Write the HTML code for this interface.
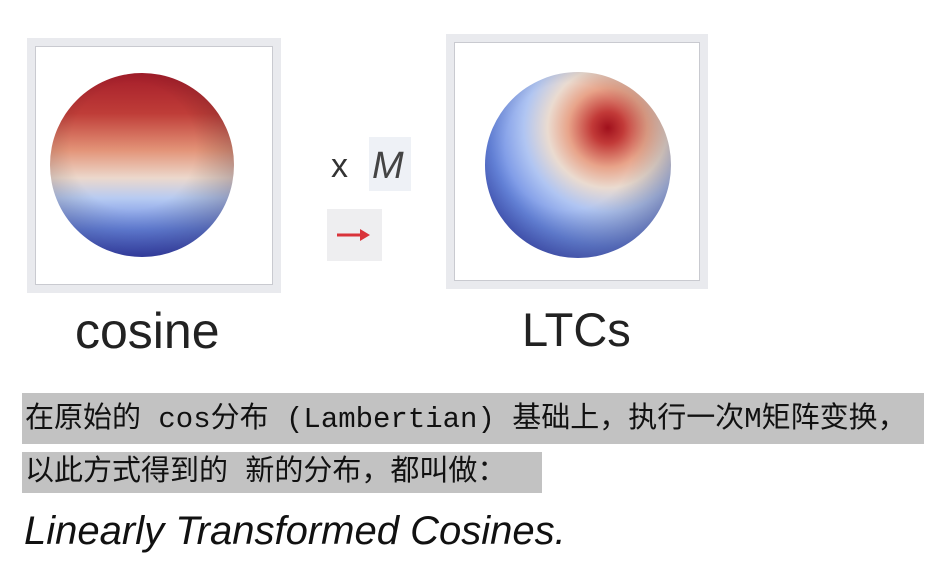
<!DOCTYPE html>
<html><head><meta charset="utf-8"><style>
html,body{margin:0;padding:0;background:#fff;width:946px;height:581px;overflow:hidden;position:relative;font-family:"Liberation Sans","Noto Sans CJK SC",sans-serif}
.abs{position:absolute}
.frame{background:#e9eaee}
.inner{position:absolute;left:8px;top:8px;right:8px;bottom:8px;background:#fff;border:1px solid #c9cad0}
.hl{background:#c2c2c2;color:#111;font-family:"Liberation Mono","Noto Sans CJK SC",monospace;font-size:29px;line-height:1;white-space:nowrap}
</style></head><body>
<div class="abs frame" style="left:27px;top:38px;width:254px;height:255px"><div class="inner"></div></div>
<div class="abs frame" style="left:446px;top:34px;width:262px;height:255px"><div class="inner"></div></div>
<svg class="abs" style="left:0;top:0" width="946" height="581">
<defs>
<linearGradient id="g1" x1="0" y1="0" x2="0" y2="1">
<stop offset="0" stop-color="#a51d2a"/><stop offset="0.22" stop-color="#bf3d38"/>
<stop offset="0.42" stop-color="#e39478"/><stop offset="0.57" stop-color="#ecd8cc"/>
<stop offset="0.68" stop-color="#b7cbf2"/><stop offset="0.85" stop-color="#6684e0"/>
<stop offset="1" stop-color="#3c4cbe"/></linearGradient>
<radialGradient id="sh" cx="0.45" cy="0.4" r="0.62">
<stop offset="0.55" stop-color="#000" stop-opacity="0"/><stop offset="1" stop-color="#102" stop-opacity="0.25"/></radialGradient>
<radialGradient id="g2" cx="0.66" cy="0.3" r="0.85" fx="0.66" fy="0.3">
<stop offset="0" stop-color="#a0101c"/><stop offset="0.1" stop-color="#c23a38"/>
<stop offset="0.25" stop-color="#e8a48a"/><stop offset="0.38" stop-color="#eadbd0"/>
<stop offset="0.53" stop-color="#b0c5f2"/><stop offset="0.75" stop-color="#6888e2"/>
<stop offset="1" stop-color="#3848bc"/></radialGradient>
</defs>
<circle cx="142" cy="165" r="92" fill="url(#g1)"/>
<circle cx="142" cy="165" r="92" fill="url(#sh)"/>
<circle cx="578" cy="165" r="93" fill="url(#g2)"/>
<circle cx="578" cy="165" r="93" fill="url(#sh)"/>
<rect x="369" y="137" width="42" height="54" fill="#eef1f6"/>
<text x="331" y="177" font-size="34" fill="#333" font-family="Liberation Sans">x</text>
<text x="372" y="178" font-size="38" fill="#444" font-style="italic" font-family="Liberation Sans">M</text>
<rect x="327" y="209" width="55" height="52" fill="#eeeef0"/>
<line x1="337" y1="235" x2="362" y2="235" stroke="#d9333a" stroke-width="3"/>
<polygon points="360,229 370,235 360,241" fill="#d9333a"/>
</svg>
<div class="abs" style="left:75px;top:302px;font-size:50px;color:#222">cosine</div>
<div class="abs" style="left:522px;top:302px;font-size:47px;color:#222">LTCs</div>
<div class="abs hl" style="left:22px;top:393px;width:902px;height:51px;padding:12px 0 0 3px;box-sizing:border-box">在原始的 cos分布 (Lambertian) 基础上，执行一次M矩阵变换，</div>
<div class="abs hl" style="left:22px;top:452px;width:520px;height:41px;padding:6px 0 0 3px;box-sizing:border-box">以此方式得到的 新的分布，都叫做：</div>
<div class="abs" style="left:24px;top:509px;font-size:40px;font-style:italic;color:#111">Linearly Transformed Cosines.</div>
</body></html>
